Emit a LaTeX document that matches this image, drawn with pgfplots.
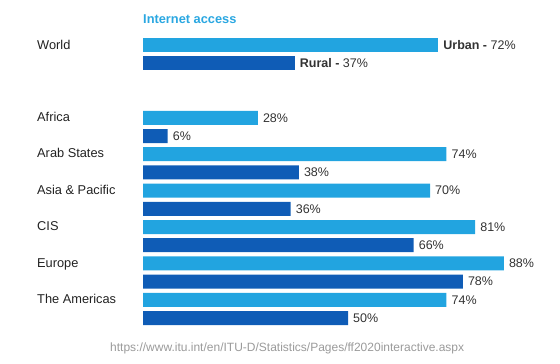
\documentclass[border=0pt]{standalone}
\usepackage{pgfplots}
\pgfplotsset{compat=1.18}
\usepackage{fontspec}
\setmainfont{Liberation Sans}
\definecolor{urban}{HTML}{22A4E0}
\definecolor{rural}{HTML}{0F5CB6}
\definecolor{txt}{HTML}{333333}
\definecolor{cat}{HTML}{222222}
\definecolor{ttl}{HTML}{2AA7E1}
\definecolor{urlc}{HTML}{9A9A9A}
\begin{document}
\begin{tikzpicture}[x=1pt,y=1pt]
\path (0,0) rectangle (560,-364);
\node[anchor=base west, font=\fontsize{12.8}{14}\selectfont\bfseries, text=ttl, inner sep=0] at (143,-23.5) {Internet access};
\begin{scope}[every node/.style={anchor=base west, inner sep=0, font=\fontsize{12.8}{14}\selectfont, text=cat}]
\node at (37,-49.5) {World};
\node at (37,-121.5) {Africa};
\node at (37,-157.9) {Arab States};
\node at (37,-194.3) {Asia \& Pacific};
\node at (37,-230.7) {CIS};
\node at (37,-267.1) {Europe};
\node at (37,-303.5) {The Americas};
\end{scope}
\node[anchor=base west, inner sep=0, font=\fontsize{12}{14}\selectfont, text=urlc] at (110,-351.3) {https://www.itu.int/en/ITU-D/Statistics/Pages/ff2020interactive.aspx};
\begin{axis}[
  at={(143pt,-35.9pt)}, anchor=north west,
  scale only axis, width=410pt, height=291.2pt,
  xmin=0, xmax=100, ymin=-0.5, ymax=15.5,
  y dir=reverse, hide axis, clip=false,
  xbar, bar width=14pt, bar shift=0pt,
  /pgf/number format/assume math mode=true,
  nodes near coords style={font=\fontsize{12.5}{14}\selectfont, text=txt, inner sep=0pt, xshift=5pt},
]
\addplot[fill=urban, draw=none, bar shift=0pt,
  nodes near coords={\textbf{Urban -}\ \pgfmathprintnumber{\pgfplotspointmeta}\%}]
  coordinates {(72,0)};
\addplot[fill=rural, draw=none, bar shift=0pt,
  nodes near coords={\textbf{Rural -}\ \pgfmathprintnumber{\pgfplotspointmeta}\%}]
  coordinates {(37,1)};
\addplot[fill=urban, draw=none, bar shift=0pt,
  nodes near coords={\pgfmathprintnumber{\pgfplotspointmeta}\%}]
  coordinates {(28,4) (74,6) (70,8) (81,10) (88,12) (74,14)};
\addplot[fill=rural, draw=none, bar shift=0pt,
  nodes near coords={\pgfmathprintnumber{\pgfplotspointmeta}\%}]
  coordinates {(6,5) (38,7) (36,9) (66,11) (78,13) (50,15)};
\end{axis}
\end{tikzpicture}
\end{document}
